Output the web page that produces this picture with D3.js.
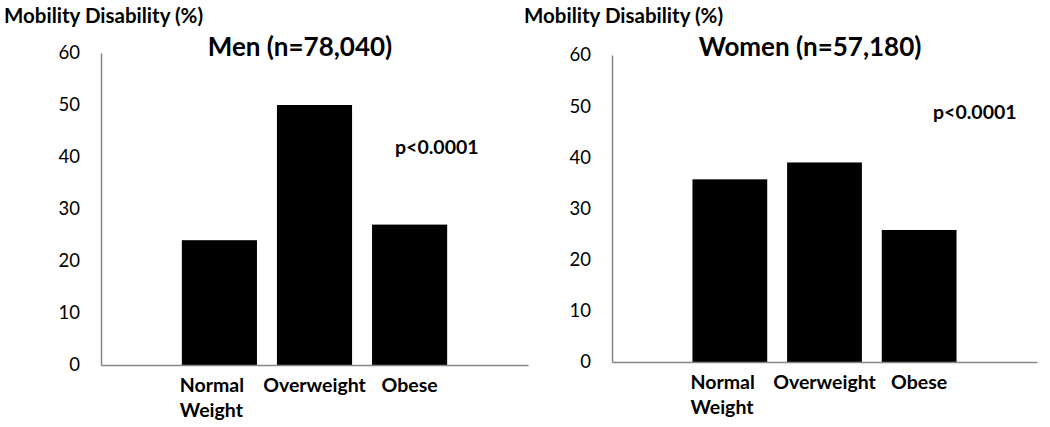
<!DOCTYPE html>
<html>
<head>
<meta charset="utf-8">
<script src="https://cdn.jsdelivr.net/npm/d3@7"></script>
<style>
  html, body { margin: 0; padding: 0; background: #fff; }
  svg { display: block; }
  text { font-family: Lato, "Open Sans", sans-serif; fill: #000; }
</style>
</head>
<body>
<svg id="chart" width="1050" height="427"></svg>
<script>
// ---- data ----
const categories = ["Normal Weight", "Overweight", "Obese"];
const categoryLines = [["Normal", "Weight"], ["Overweight"], ["Obese"]];
const menValues = [24, 50, 27];
const womenValues = [35.7, 39.0, 25.8];
const yTicks = [0, 10, 20, 30, 40, 50, 60];
const panelTitles = ["Men (n=78,040)", "Women (n=57,180)"];
const pValueLabel = "p<0.0001";
const yAxisLabel = "Mobility Disability (%)";

// ---- layout ----
const svg = d3.select("#chart");
const panels = [
  { values: menValues, title: panelTitles[0], x0: 101, x1: 528, yTop: 53, yZero: 365,
    labelX: 4, titleX: 300, pX: 395, pY: 154 },
  { values: womenValues, title: panelTitles[1], x0: 612, x1: 1037, yTop: 55, yZero: 362,
    labelX: 524, titleX: 810, pX: 933, pY: 119 }
];

panels.forEach(p => {
  const g = svg.append("g");
  const x = d3.scaleBand().domain(categories).range([p.x0, p.x1])
    .paddingInner(0.21).paddingOuter(0.85);
  const y = d3.scaleLinear().domain([0, 60]).range([p.yZero, p.yTop]);

  // bars
  g.selectAll("rect.bar").data(p.values).join("rect")
    .attr("class", "bar")
    .attr("x", (d, i) => x(categories[i]))
    .attr("width", x.bandwidth())
    .attr("y", d => y(d))
    .attr("height", d => y(0) - y(d))
    .attr("fill", "#000");

  // y axis
  const ya = g.append("g").attr("transform", `translate(${p.x0},0)`)
    .call(d3.axisLeft(y).tickValues(yTicks).tickSize(0).tickPadding(21));
  ya.select(".domain").attr("stroke", "#868686").attr("stroke-width", 1.5);
  ya.selectAll("text").style("font-size", "18.5px").style("font-family", "Lato, sans-serif").attr("fill", "#000");

  // x axis
  const xa = g.append("g").attr("transform", `translate(0,${p.yZero})`)
    .call(d3.axisBottom(x).tickSize(0).tickFormat(""));
  xa.select(".domain").attr("stroke", "#868686").attr("stroke-width", 1.5);

  // category labels
  categories.forEach((c, i) => {
    const lines = categoryLines[i];
    const t = g.append("text")
      .attr("font-weight", "bold").attr("font-size", 19.5)
      .attr("text-anchor", lines.length > 1 ? "start" : "middle");
    lines.forEach((ln, k) => {
      t.append("tspan")
        .attr("x", lines.length > 1 ? x(c) - 2 : x(c) + x.bandwidth() / 2)
        .attr("y", p.yZero + 27 + k * 25)
        .text(ln);
    });
  });

  // y axis label
  g.append("text").attr("x", p.labelX).attr("y", 23)
    .attr("font-weight", "bold").attr("font-size", 20.5).text(yAxisLabel);

  // title
  g.append("text").attr("x", p.titleX).attr("y", 56).attr("text-anchor", "middle")
    .attr("font-weight", "bold").attr("font-size", 26).text(p.title);

  // p value
  g.append("text").attr("x", p.pX).attr("y", p.pY)
    .attr("font-weight", "bold").attr("font-size", 19.5).text(pValueLabel);
});
</script>
</body>
</html>
